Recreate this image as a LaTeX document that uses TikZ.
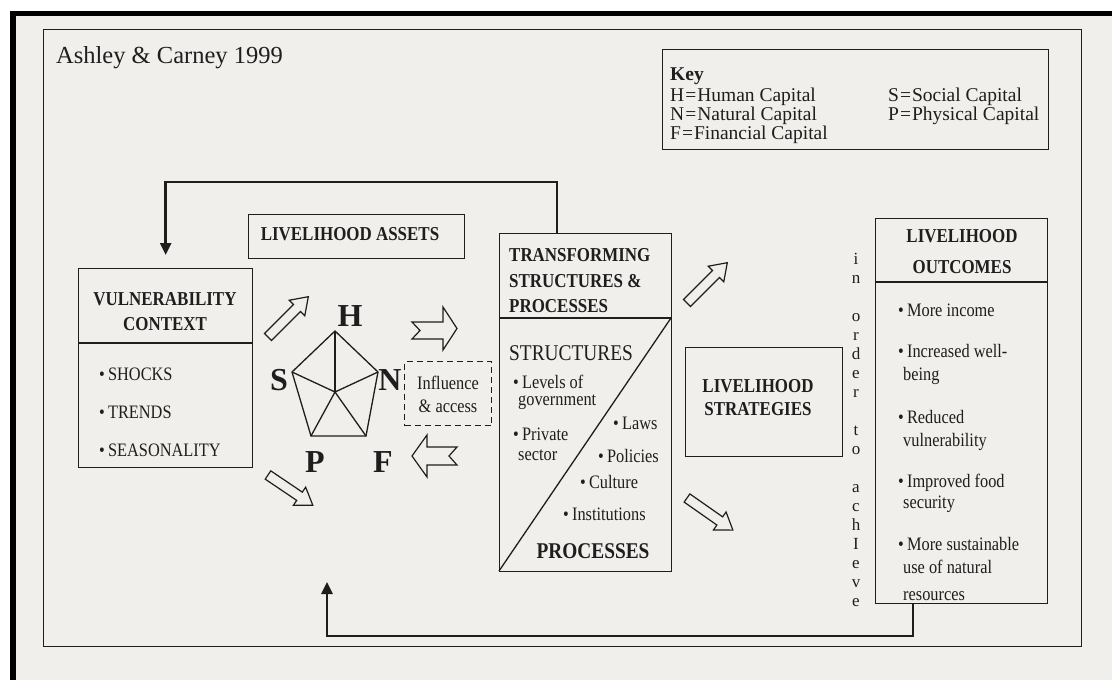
\documentclass[tikz,border=0pt]{standalone}
\usepackage{fontspec}
\setmainfont{Liberation Serif}
\newfontfamily\cnd[FakeStretch=0.86]{Liberation Serif}
\usetikzlibrary{arrows.meta}
\definecolor{paper}{HTML}{F1EFEB}
\definecolor{ink}{HTML}{1E1E1E}
\newcommand{\diagarrow}[3]{%
  \draw[harrow, shift={(#1)}, rotate=#2] (0,-5) -- ({#3-16},-5) -- ({#3-16},-11) -- (#3,0) -- ({#3-16},11) -- ({#3-16},5) -- (0,5) -- cycle;}
\begin{document}
\begin{tikzpicture}[x=1pt,y=-1pt,
  box/.style={draw=ink, line width=1.3pt, inner sep=0pt, anchor=north west},
  txt/.style={inner sep=0pt, anchor=base west, text=ink},
  hd/.style={txt, font=\cnd\bfseries\fontsize{19.7}{22}\selectfont},
  bd/.style={txt, font=\cnd\fontsize{19}{22}\selectfont},
  keyf/.style={txt, font=\fontsize{19.5}{21}\selectfont},
  capl/.style={txt, anchor=base, font=\bfseries\fontsize{32}{34}\selectfont},
  vt/.style={txt, anchor=base, font=\fontsize{17}{18}\selectfont},
  harrow/.style={draw=ink, line width=1.2pt, fill=paper, line join=miter},
  fb/.style={draw=ink, line width=2.6pt, -{Triangle[length=12pt,width=11pt]}},
  ln/.style={draw=ink, line width=1.3pt}]
\useasboundingbox (0,0) rectangle (1112,680);
\fill[white] (0,0) rectangle (1112,680);
\fill[paper] (16,16) rectangle (1112,680);
\fill[black] (10,11) rectangle (1112,16);
\fill[black] (10,11) rectangle (16,680);
% outer frame
\node[box, minimum width=1038pt, minimum height=617pt] (frame) at (43,29) {};
\node[txt, font=\fontsize{24.5}{28}\selectfont] (ttl) at (56,63) {Ashley \& Carney 1999};
% key
\node[box, minimum width=386pt, minimum height=100pt] (key) at (662,49) {};
\node[keyf, font=\bfseries\fontsize{19.5}{21}\selectfont] (k0) at (670,80) {Key};
\node[keyf] (k1) at (670,101) {H\kern1pt=\kern1pt Human Capital};
\node[keyf] (k2) at (670,120) {N\kern1pt=\kern1pt Natural Capital};
\node[keyf] (k3) at (670,139) {F\kern1pt=\kern1pt Financial Capital};
\node[keyf] (k4) at (888,101) {S\kern1pt=\kern1pt Social Capital};
\node[keyf] (k5) at (888,120) {P\kern1pt=\kern1pt Physical Capital};
% vulnerability context
\node[box, minimum width=174pt, minimum height=199pt] (vc) at (78,268) {};
\draw[ln] (78,343) -- (252,343);
\node[hd, anchor=base] (vc1) at (165,305) {VULNERABILITY};
\node[hd, anchor=base] (vc2) at (165,330) {CONTEXT};
\node[bd] (vs1) at (99,380) {•\,SHOCKS};
\node[bd] (vs2) at (99,418) {•\,TRENDS};
\node[bd] (vs3) at (99,456) {•\,SEASONALITY};
% livelihood assets
\node[box, minimum width=216pt, minimum height=44pt] (la) at (248,214) {};
\node[hd, anchor=base] (la1) at (350,240) {LIVELIHOOD ASSETS};
% pentagon
\coordinate (pc) at (335,392);
\coordinate (p1) at (335,331);
\coordinate (p2) at (378,372);
\coordinate (p3) at (366,436);
\coordinate (p4) at (311,436);
\coordinate (p5) at (292,372);
\draw[ln, line join=miter] (p1) -- (p2) -- (p3) -- (p4) -- (p5) -- cycle;
\foreach \p in {p1,p2,p3,p4,p5} \draw[ln] (pc) -- (\p);
\node[capl] (H) at (350,326) {H};
\node[capl] (S) at (279,390) {S};
\node[capl] (N) at (390,390) {N};
\node[capl] (P) at (315,472) {P};
\node[capl] (F) at (383,472) {F};
% influence & access
\node[box, dashed, dash pattern=on 6pt off 4pt, line width=1.4pt, minimum width=87pt, minimum height=64pt] (inf) at (404,361) {};
\node[bd, anchor=base] (inf1) at (448,389) {Influence};
\node[bd, anchor=base] (inf2) at (448,412) {\& access};
% block arrows
\diagarrow{268,337}{45}{57}
\diagarrow{268,475}{-34}{54}
\diagarrow{687,303}{45}{57}
\diagarrow{687,498}{-35}{56}
\draw[harrow] (412,322) -- (443,322) -- (443,307) -- (457,328.5) -- (443,350) -- (443,339) -- (412,339) -- (420,330.5) -- cycle;
\draw[harrow] (457,447) -- (427,447) -- (427,435) -- (412,456) -- (427,477) -- (427,465) -- (457,465) -- (449,456) -- cycle;
% transforming structures
\node[box, minimum width=172pt, minimum height=338pt] (tr) at (499,233) {};
\draw[ln] (499,318) -- (671,318);
\draw[ln] (499,571) -- (671,318);
\node[hd] (tr1) at (509,261) {TRANSFORMING};
\node[hd] (tr2) at (509,287) {STRUCTURES \&};
\node[hd] (tr3) at (509,312) {PROCESSES};
\node[txt, font=\cnd\fontsize{22.5}{24}\selectfont] (st) at (509,360) {STRUCTURES};
\node[bd] (s1) at (513,388) {•\,Levels of};
\node[bd] (s1b) at (518,405) {government};
\node[bd] (s2) at (513,440) {•\,Private};
\node[bd] (s2b) at (518,460) {sector};
\node[bd] (q1) at (613,429) {•\,Laws};
\node[bd] (q2) at (598,462) {•\,Policies};
\node[bd] (q3) at (580,488) {•\,Culture};
\node[bd] (q4) at (563,520) {•\,Institutions};
\node[txt, anchor=base, font=\cnd\bfseries\fontsize{22.5}{24}\selectfont] (pr) at (593,558) {PROCESSES};
% livelihood strategies
\node[box, minimum width=157pt, minimum height=109pt] (ls) at (685,347) {};
\node[hd, anchor=base] (ls1) at (758,392) {LIVELIHOOD};
\node[hd, anchor=base] (ls2) at (758,415) {STRATEGIES};
% vertical text
\foreach \l/\yy [count=\i] in {i/264,n/283,o/321,r/340,d/359,e/378,r/397,t/435,o/454,a/492,c/511,h/530,I/549,e/568,v/587,e/606}
  \node[vt] (v\i) at (856,\yy) {\l};
% outcomes
\node[box, minimum width=172pt, minimum height=385pt] (oc) at (875,218) {};
\draw[ln] (875,282) -- (1047,282);
\node[hd, anchor=base] (oc1) at (962,242) {LIVELIHOOD};
\node[hd, anchor=base] (oc2) at (962,273) {OUTCOMES};
\node[bd] (o1) at (898,316) {•\,More income};
\node[bd] (o2) at (898,357) {•\,Increased well-};
\node[bd] (o2b) at (903,380) {being};
\node[bd] (o3) at (898,423) {•\,Reduced};
\node[bd] (o3b) at (903,446) {vulnerability};
\node[bd] (o4) at (898,487) {•\,Improved food};
\node[bd] (o4b) at (903,508) {security};
\node[bd] (o5) at (898,550) {•\,More sustainable};
\node[bd] (o5b) at (903,573) {use of natural};
\node[bd] (o5c) at (903,600) {resources};
% feedback loops
\coordinate (t1) at (557,233);
\draw[fb, shorten >=13pt] (t1) -- (557,182) -| (vc.north);
\coordinate (b1) at (913,603);
\coordinate (b3) at (327,582);
\draw[fb] (b1) -- (913,636) -| (b3);
\end{tikzpicture}
\end{document}
